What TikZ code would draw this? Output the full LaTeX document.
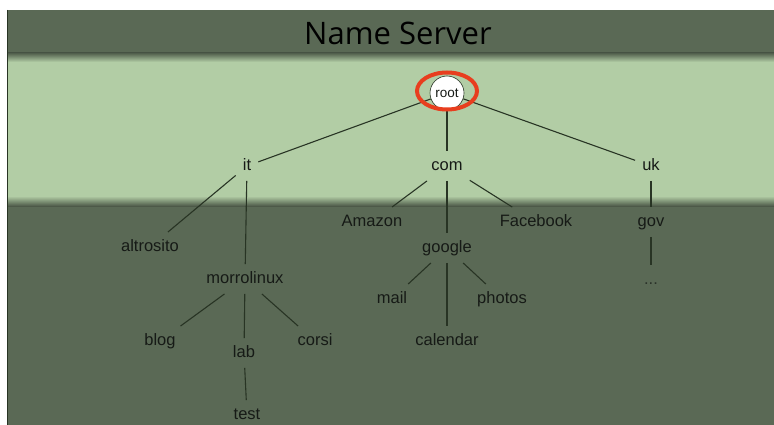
\documentclass[tikz,border=0pt]{standalone}
\usepackage{fontspec}
\setmainfont{Liberation Sans}
\newfontfamily\titlefont{Open Sans}
\usetikzlibrary{shapes.geometric, positioning}
\definecolor{darkbg}{RGB}{90,105,85}
\definecolor{band}{RGB}{178,205,165}
\definecolor{edgeclr}{RGB}{40,52,36}
\definecolor{txt}{RGB}{22,26,22}
\definecolor{ringred}{RGB}{232,62,30}

\begin{document}
\begin{tikzpicture}[
    x=1pt, y=-1pt,
    label/.style={text=txt, font=\fontsize{16.5}{19}\selectfont, inner sep=7pt, text height=12pt, text depth=3.5pt},
    rootnode/.style={circle, draw=edgeclr, fill=white, line width=0.6pt, minimum size=34pt, inner sep=0pt, font=\fontsize{13.5}{16}\selectfont, text=txt},
    ring/.style={ellipse, draw=ringred, line width=4pt, minimum width=60pt, minimum height=37pt},
    edge/.style={draw=edgeclr, line width=1.1pt}
]
\useasboundingbox (0,0) rectangle (774,425);

% background
\fill[white] (0,0) rectangle (774,425);
\fill[darkbg] (8,10) rectangle (774,425);
\fill[band] (8,60) rectangle (774,198);
\shade[top color=darkbg!90!black, bottom color=band] (8,53) rectangle (774,62);
\shade[top color=band, bottom color=darkbg!85!black] (8,196) rectangle (774,206);
\draw[edgeclr, line width=1pt] (7.5,10) -- (7.5,425);

\node[text=black, font=\titlefont\fontsize{31}{36}\selectfont] (title) at (398,33) {Name Server};

% tree
\node[rootnode] (root) at (447,93) {root};

\node[label] (it) at (247,166) {it};
\node[label] (com) at (447,166) {com};
\node[label] (uk) at (651,166) {uk};

\node[label] (altrosito) at (150,247) {altrosito};
\node[label] (morrolinux) at (245,279) {morrolinux};
\node[label] (blog) at (160,341) {blog};
\node[label] (lab) at (244,353) {lab};
\node[label] (corsi) at (315,341) {corsi};
\node[label] (test) at (247,415) {test};

\node[label] (amazon) at (372,222) {Amazon};
\node[label] (google) at (447,248) {google};
\node[label] (facebook) at (536,222) {Facebook};
\node[label] (mail) at (392,299) {mail};
\node[label] (photos) at (502,299) {photos};
\node[label] (calendar) at (447,341) {calendar};

\node[label] (gov) at (651,222) {gov};
\node[label, text=txt!70!darkbg] (more) at (651,280) {...};

\draw[edge] (root) -- (it);
\draw[edge] (root) -- (com);
\draw[edge] (root) -- (uk);

\draw[edge] (it) -- (altrosito);
\draw[edge] (it) -- (morrolinux);
\draw[edge] (morrolinux) -- (blog);
\draw[edge] (morrolinux) -- (lab);
\draw[edge] (morrolinux) -- (corsi);
\draw[edge] (lab) -- (test);

\draw[edge] (com) -- (amazon);
\draw[edge] (com) -- (google);
\draw[edge] (com) -- (facebook);
\draw[edge] (google) -- (mail);
\draw[edge] (google) -- (photos);
\draw[edge] (google) -- (calendar);

\draw[edge] (uk) -- (gov);
\draw[edge] (gov) -- (more);

\node[ring] (ring) at (447,91) {};

\end{tikzpicture}
\end{document}
